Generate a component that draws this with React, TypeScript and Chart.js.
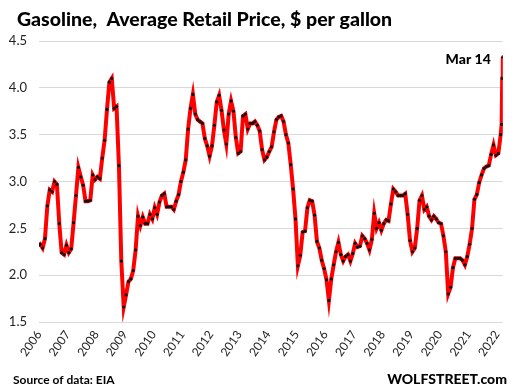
import React, { useEffect, useRef } from 'react';
import { Chart, registerables } from 'chart.js';

Chart.register(...registerables);

// Monthly average retail price of gasoline, $ per gallon
const firstYear = 2006;
const p2006 = [2.33, 2.29, 2.39, 2.74, 2.91, 2.89, 3.0, 2.97, 2.55, 2.24, 2.22, 2.32];
const p2007 = [2.24, 2.28, 2.56, 2.85, 3.15, 3.05, 2.96, 2.79, 2.79, 2.8, 3.07, 3.02];
const p2008 = [3.05, 3.03, 3.25, 3.44, 3.77, 4.06, 4.1, 3.78, 3.8, 3.17, 2.15, 1.66];
const p2009 = [1.79, 1.93, 1.96, 2.05, 2.27, 2.63, 2.53, 2.62, 2.55, 2.55, 2.65, 2.6];
const p2010 = [2.72, 2.65, 2.78, 2.85, 2.87, 2.73, 2.73, 2.73, 2.7, 2.79, 2.86, 3.0];
const p2011 = [3.1, 3.23, 3.56, 3.78, 3.93, 3.72, 3.66, 3.64, 3.62, 3.46, 3.38, 3.27];
const p2012 = [3.38, 3.6, 3.85, 3.92, 3.76, 3.55, 3.4, 3.72, 3.86, 3.75, 3.47, 3.3];
const p2013 = [3.32, 3.7, 3.72, 3.56, 3.62, 3.62, 3.64, 3.6, 3.54, 3.34, 3.23, 3.26];
const p2014 = [3.32, 3.37, 3.53, 3.66, 3.69, 3.7, 3.64, 3.5, 3.41, 3.18, 2.92, 2.6];
const p2015 = [2.1, 2.21, 2.46, 2.47, 2.72, 2.8, 2.79, 2.64, 2.36, 2.29, 2.16, 2.07];
const p2016 = [1.95, 1.73, 1.96, 2.11, 2.25, 2.35, 2.22, 2.15, 2.2, 2.22, 2.15, 2.23];
const p2017 = [2.34, 2.3, 2.31, 2.42, 2.39, 2.34, 2.27, 2.38, 2.66, 2.5, 2.56, 2.48];
const p2018 = [2.55, 2.59, 2.58, 2.76, 2.92, 2.89, 2.85, 2.85, 2.85, 2.87, 2.65, 2.37];
const p2019 = [2.25, 2.29, 2.5, 2.8, 2.85, 2.7, 2.73, 2.63, 2.59, 2.63, 2.6, 2.56];
const p2020 = [2.55, 2.42, 2.25, 1.8, 1.87, 2.08, 2.18, 2.18, 2.18, 2.16, 2.11, 2.2];
const p2021 = [2.33, 2.5, 2.81, 2.86, 2.99, 3.07, 3.14, 3.16, 3.17, 3.29, 3.39, 3.28];
const p2022 = [3.3, 3.5];
const yearlyPrices = [p2006, p2007, p2008, p2009, p2010, p2011, p2012, p2013, p2014, p2015, p2016, p2017, p2018, p2019, p2020, p2021, p2022];

// Weekly readings at the two ends of the series
const startDates = ['2006-01-02'];
const startPrices = [2.32];
const recentDates = ['2022-02-28', '2022-03-07', '2022-03-14'];
const recentPrices = [3.61, 4.1, 4.33];

const yMin = 1.5;
const yMax = 4.5;
const yStep = 0.5;
const xMin = 2006;
const xMax = 2022.2;

const titleText = 'Gasoline,  Average Retail Price, $ per gallon';
const lastLabel = 'Mar 14';
const sourceText = 'Source of data: EIA';
const brandText = 'WOLFSTREET.com';

function dateToYear(d: string): number {
  const [y, m, day] = d.split('-').map(Number);
  const start = Date.UTC(y, 0, 1);
  const t = Date.UTC(y, m - 1, day);
  return y + (t - start) / (365 * 86400000);
}

function buildPoints() {
  const pts: { x: number; y: number }[] = [];
  startDates.forEach((d, i) => pts.push({ x: dateToYear(d), y: startPrices[i] }));
  yearlyPrices.forEach((arr, yi) => {
    arr.forEach((v, mi) => pts.push({ x: firstYear + yi + (mi + 0.5) / 12, y: v }));
  });
  recentDates.forEach((d, i) => pts.push({ x: dateToYear(d), y: recentPrices[i] }));
  return pts;
}

const FONT = 'Lato, "Open Sans", sans-serif';

const textPlugin = {
  id: 'wolfTexts',
  afterDraw(chart: any) {
    const ctx = chart.ctx as CanvasRenderingContext2D;
    ctx.save();
    ctx.fillStyle = '#000';
    ctx.textBaseline = 'alphabetic';
    ctx.textAlign = 'left';
    ctx.font = `900 19.5px ${FONT}`;
    ctx.fillText(titleText, 17, 26);

    const meta = chart.getDatasetMeta(0);
    const last = meta.data[meta.data.length - 1];
    ctx.font = `900 14px ${FONT}`;
    ctx.textAlign = 'right';
    ctx.fillText(lastLabel, last.x - 12, last.y + 7);

    ctx.textAlign = 'left';
    ctx.font = `bold 12px ${FONT}`;
    ctx.fillText(sourceText, 13, 384);

    ctx.textAlign = 'right';
    ctx.font = `900 14px ${FONT}`;
    ctx.fillText(brandText, 507, 384);
    ctx.restore();
  },
};

export default function App() {
  const canvasRef = useRef<HTMLCanvasElement | null>(null);

  useEffect(() => {
    if (!canvasRef.current) return;
    const chart = new Chart(canvasRef.current, {
      type: 'line',
      data: {
        datasets: [
          {
            data: buildPoints(),
            borderColor: '#ff0000',
            borderWidth: 4,
            tension: 0,
            pointRadius: 1.6,
            pointBackgroundColor: '#111111',
            pointBorderWidth: 0,
            pointHoverRadius: 0,
          },
        ],
      },
      options: {
        animation: false,
        responsive: true,
        maintainAspectRatio: false,
        events: [],
        layout: { padding: { left: 0, right: 8, top: 41, bottom: 0 } },
        plugins: {
          legend: { display: false },
          tooltip: { enabled: false },
          title: { display: false },
        },
        scales: {
          x: {
            type: 'linear',
            min: xMin,
            max: xMax,
            grid: { display: false, drawTicks: false },
            border: { display: false },
            ticks: {
              stepSize: 1,
              includeBounds: false,
              autoSkip: false,
              maxRotation: 55,
              minRotation: 55,
              padding: 6,
              color: '#222',
              font: { family: FONT, size: 12 },
              callback: (v: any) => String(v),
            },
            afterFit: (scale: any) => {
              scale.height = 70;
            },
          },
          y: {
            min: yMin,
            max: yMax,
            grid: { color: '#d9d9d9', lineWidth: 1, drawTicks: false },
            border: { display: false },
            ticks: {
              stepSize: yStep,
              padding: 12,
              color: '#222',
              font: { family: FONT, size: 13 },
              callback: (v: any) => Number(v).toFixed(1),
            },
            afterFit: (scale: any) => {
              scale.width = 39;
            },
          },
        },
      },
      plugins: [textPlugin],
    });
    return () => chart.destroy();
  }, []);

  return (
    <div style={{ position: 'absolute', left: 0, top: 0, width: 515, height: 392, background: '#fff' }}>
      <canvas ref={canvasRef} />
    </div>
  );
}
